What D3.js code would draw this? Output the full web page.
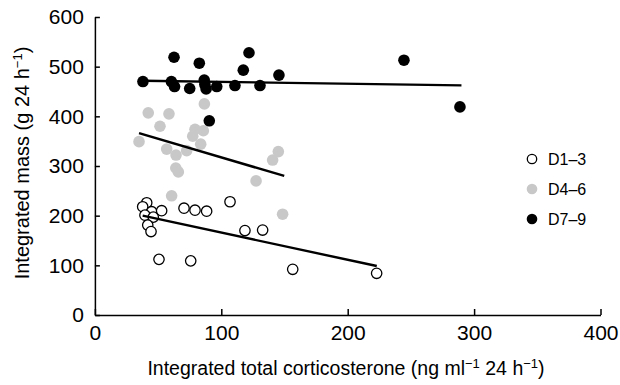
<!DOCTYPE html>
<html><head><meta charset="utf-8">
<script src="https://cdn.jsdelivr.net/npm/d3@7"></script>
<style>
body{margin:0;background:#fff;}
svg{display:block;font-family:"Liberation Sans",Arial,Helvetica,sans-serif;}
</style></head>
<body><svg id="c" width="620" height="385"></svg>
<script>
// Data
const seriesNames = ["D1–3", "D4–6", "D7–9"];
const d13x = [41.0,37.8,44.9,52.8,39.6,46.2,41.8,44.4,70.5,79.2,88.4,106.9,50.7,75.8,118.7,132.7,156.5,222.9];
const d13y = [226,218,208,210,201,197,181,168,215,211,209,228,112,109,170,171,92,84];
const d46x = [34.9,42.2,58.6,51.5,86.6,56.8,64.2,72.6,79.2,77.4,85.8,83.7,64,66,60.7,127.5,140.6,145.1,148.5];
const d46y = [349,407,405,380,425,334,322,331,374,360,371,344,296,288,240,270,312,329,203];
const d79x = [38,60.5,63,62.6,75,82.6,86.5,87,88,96.4,110.8,117.4,121.9,130.6,145.6,90.5,244.5,288.8];
const d79y = [470,470,460,519,456,507,473,464,455,460,462,493,528,462,483,391,513,419];
// regression line end points [x0,y0,x1,y1]
const fit13 = [37.8,200,223,98.6];
const fit46 = [34.9,366,149.8,280];
const fit79 = [38,471.7,290,462.4];
const xTicks = [0,100,200,300,400];
const yTicks = [0,100,200,300,400,500,600];

const svg = d3.select("#c");
const x = d3.scaleLinear().domain([0,400]).range([94.9,600.5]);
const y = d3.scaleLinear().domain([0,600]).range([315,17]);

const styles = [
  {fill:"#ffffff", stroke:"#000", sw:1.3, r:5.2},
  {fill:"#c8c8c8", stroke:"none", sw:0, r:5.8},
  {fill:"#000000", stroke:"none", sw:0, r:5.8}
];
const sets = [[d13x,d13y,fit13],[d46x,d46y,fit46],[d79x,d79y,fit79]];

// axes
const xAxis = d3.axisBottom(x).tickValues(xTicks).tickSizeInner(-6).tickSizeOuter(0).tickPadding(10);
const yAxis = d3.axisLeft(y).tickValues(yTicks).tickSizeInner(-5).tickSizeOuter(0).tickPadding(11);
const gx = svg.append("g").attr("transform","translate(0,315)").call(xAxis);
const gy = svg.append("g").attr("transform","translate(94.9,0)").call(yAxis);
[gx,gy].forEach(g=>{
  g.selectAll("path,line").attr("stroke","#000").attr("stroke-width",1.5);
  g.selectAll("text").attr("font-size",21).attr("fill","#000").attr("font-family","Liberation Sans, Arial, sans-serif");
});

// points
sets.forEach((s,i)=>{
  const st = styles[i];
  svg.append("g").selectAll("circle").data(s[0].map((v,j)=>[v,s[1][j]])).join("circle")
    .attr("cx",d=>x(d[0])).attr("cy",d=>y(d[1])).attr("r",st.r)
    .attr("fill",st.fill).attr("stroke",st.stroke).attr("stroke-width",st.sw);
});
// fit lines
sets.forEach(s=>{
  const f = s[2];
  svg.append("line").attr("x1",x(f[0])).attr("y1",y(f[1])).attr("x2",x(f[2])).attr("y2",y(f[3]))
    .attr("stroke","#000").attr("stroke-width",2.4);
});

// legend
const lg = svg.append("g");
seriesNames.forEach((n,i)=>{
  const st = styles[i];
  const cy = 159 + i*30;
  lg.append("circle").attr("cx",532).attr("cy",cy).attr("r",st.r-0.5)
    .attr("fill",st.fill).attr("stroke",st.stroke).attr("stroke-width",st.sw);
  lg.append("text").attr("x",548).attr("y",cy+5.5).attr("font-size",16).text(n);
});

// axis titles
const xt = svg.append("text").attr("x",346).attr("y",375).attr("text-anchor","middle").attr("font-size",19.5);
xt.append("tspan").text("Integrated total corticosterone (ng ml");
xt.append("tspan").attr("font-size",13).attr("dy",-7).text("−1");
xt.append("tspan").attr("dy",7).text(" 24 h");
xt.append("tspan").attr("font-size",13).attr("dy",-7).text("−1");
xt.append("tspan").attr("dy",7).text(")");

const yt = svg.append("text").attr("transform","translate(29,163) rotate(-90)").attr("text-anchor","middle").attr("font-size",20);
yt.append("tspan").text("Integrated mass (g 24 h");
yt.append("tspan").attr("font-size",13).attr("dy",-7).text("−1");
yt.append("tspan").attr("dy",7).text(")");
</script></body></html>
